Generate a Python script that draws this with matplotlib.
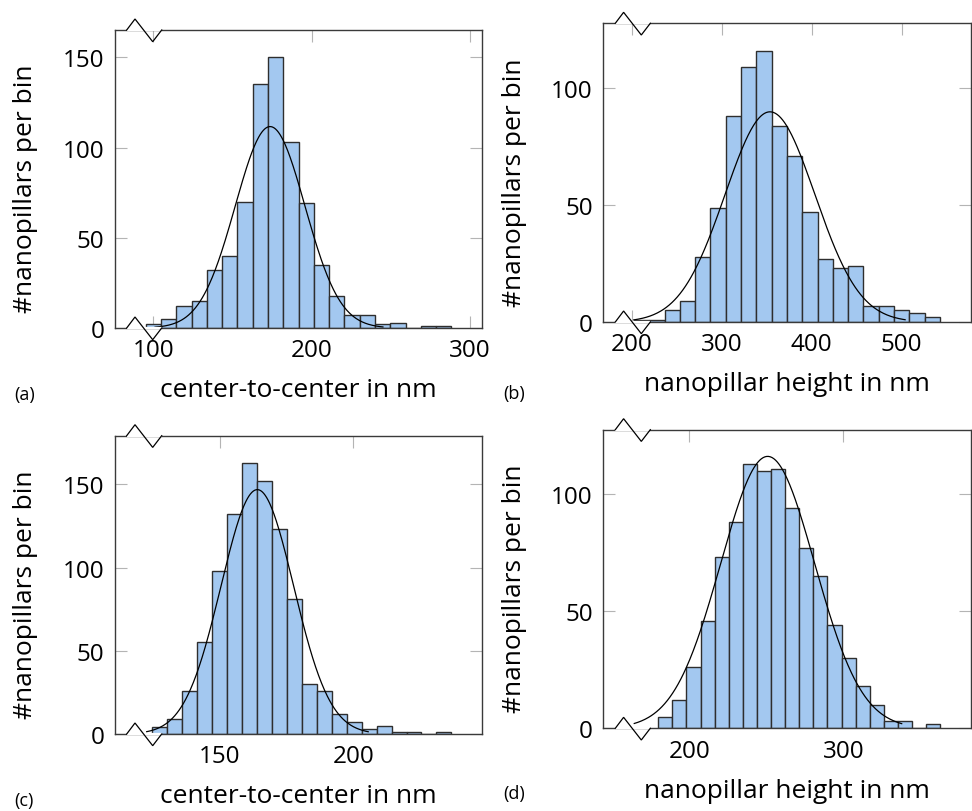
import numpy as np
import matplotlib
matplotlib.use("Agg")
import matplotlib.pyplot as plt

plt.rcParams['font.family'] = ['Open Sans', 'DejaVu Sans']

# ---------------- data ----------------
# (a) center-to-center, top row
a_counts = [2, 5, 12, 15, 32, 40, 70, 135, 150, 103, 69, 35, 18, 7, 7, 2, 3, 0, 1, 1]
a_bin_start = 95.1
a_bin_width = 9.66
a_fit = dict(mu=173.7, sigma=22.0, amp=111.6, x0=101.0, x1=245.0)

# (b) nanopillar height, top row
b_counts = [1, 1, 5, 9, 28, 49, 88, 109, 116, 84, 71, 47, 27, 23, 24, 7, 7, 5, 4, 2]
b_bin_start = 202.2
b_bin_width = 17.03
b_fit = dict(mu=353.6, sigma=50.0, amp=90.0, x0=202.0, x1=504.0)

# (c) center-to-center, bottom row
c_counts = [4, 9, 26, 55, 98, 132, 163, 152, 123, 81, 30, 26, 12, 7, 3, 5, 1, 1, 0, 1]
c_bin_start = 124.6
c_bin_width = 5.61
c_fit = dict(mu=164.0, sigma=13.6, amp=146.9, x0=122.5, x1=205.6)

# (d) nanopillar height, bottom row
d_counts = [5, 12, 26, 46, 73, 88, 113, 110, 111, 94, 77, 65, 44, 30, 18, 10, 3, 3, 0, 2]
d_bin_start = 179.9
d_bin_width = 9.15
d_fit = dict(mu=250.9, sigma=30.5, amp=116.2, x0=164.3, x1=337.9)

xlabel_cc = "center-to-center in nm"
xlabel_h = "nanopillar height in nm"
ylabel = "#nanopillars per bin"

a_xticks = [100, 200, 300]
b_xticks = [200, 300, 400, 500]
c_xticks = [150, 200]
d_xticks = [200, 300]
a_yticks = [0, 50, 100, 150]
b_yticks = [0, 50, 100]
c_yticks = [0, 50, 100, 150]
d_yticks = [0, 50, 100]

# ---------------- style ----------------
BAR_FACE = '#a3c8f0'
BAR_EDGE = '#2e2e2e'
SPINE = '#3a3a3a'
TICK = '#b4b4b4'

fig = plt.figure(figsize=(9.72, 8.12), dpi=100)

W_PX, H_PX = 972, 812


def rect(l, t, r, b):
    return [l / W_PX, 1 - b / H_PX, (r - l) / W_PX, (b - t) / H_PX]


panels = [
    dict(rect=rect(114.7, 31.0, 482.0, 329.0), counts=a_counts, start=a_bin_start,
         width=a_bin_width, fit=a_fit, xlim=(75.5, 307.6), ylim=(0, 165.1),
         xticks=a_xticks, yticks=a_yticks, xlabel=xlabel_cc, tag='(a)',
         tagpos=(25, 395)),
    dict(rect=rect(603.3, 24.3, 970.7, 323.0), counts=b_counts, start=b_bin_start,
         width=b_bin_width, fit=b_fit, xlim=(168.1, 577.0), ylim=(0, 127.9),
         xticks=b_xticks, yticks=b_yticks, xlabel=xlabel_h, tag='(b)',
         tagpos=(514, 394)),
    dict(rect=rect(114.7, 436.7, 482.3, 735.0), counts=c_counts, start=c_bin_start,
         width=c_bin_width, fit=c_fit, xlim=(110.5, 248.4), ylim=(0, 179.3),
         xticks=c_xticks, yticks=c_yticks, xlabel=xlabel_cc, tag='(c)',
         tagpos=(24, 801)),
    dict(rect=rect(603.3, 430.7, 970.7, 729.3), counts=d_counts, start=d_bin_start,
         width=d_bin_width, fit=d_fit, xlim=(144.2, 382.7), ylim=(0, 127.6),
         xticks=d_xticks, yticks=d_yticks, xlabel=xlabel_h, tag='(d)',
         tagpos=(514, 794)),
]


def draw_break(ax, rect_frac):
    w_px = rect_frac[2] * W_PX
    h_px = rect_frac[3] * H_PX
    xs_px = [12.0, 20.3, 38.0, 47.0]
    ys_px = [0.0, 11.0, -11.7, 0.0]
    xs = [p / w_px for p in xs_px]
    for y0 in (0.0, 1.0):
        ys = [y0 + p / h_px for p in ys_px]
        ax.plot([xs[0], xs[-1]], [y0, y0], color='white', lw=1.6,
                transform=ax.transAxes, clip_on=False, zorder=5,
                solid_capstyle='butt')
        ax.plot(xs, ys, color='black', lw=0.9, transform=ax.transAxes,
                clip_on=False, zorder=6, solid_joinstyle='miter')


for p in panels:
    ax = fig.add_axes(p['rect'])
    counts = np.asarray(p['counts'], dtype=float)
    n = len(counts)
    edges = p['start'] + p['width'] * np.arange(n)
    ax.bar(edges, counts, width=p['width'], align='edge', color=BAR_FACE,
           edgecolor=BAR_EDGE, linewidth=1.0, zorder=2)
    f = p['fit']
    xs = np.linspace(f['x0'], f['x1'], 300)
    ys = f['amp'] * np.exp(-0.5 * ((xs - f['mu']) / f['sigma']) ** 2)
    ax.plot(xs, ys, color='black', lw=0.9, zorder=3)

    ax.set_xlim(*p['xlim'])
    ax.set_ylim(*p['ylim'])
    ax.set_xticks(p['xticks'])
    ax.set_yticks(p['yticks'])
    ax.tick_params(direction='in', length=8.5, width=0.8, color=TICK,
                   top=True, right=True, labelsize=17.5, pad=7.5)
    for s in ax.spines.values():
        s.set_color(SPINE)
        s.set_linewidth(1.0)
        s.set_zorder(4)

    ax.set_xlabel(p['xlabel'], fontsize=19)
    ax.xaxis.set_label_coords(0.5, -0.165)
    ax.set_ylabel(ylabel, fontsize=19)
    ax.yaxis.set_label_coords(-0.208, 0.47)

    draw_break(ax, p['rect'])

    tx, ty = p['tagpos']
    fig.text(tx / W_PX, 1 - ty / H_PX, p['tag'], fontsize=13, ha='center',
             va='center')

fig.savefig('out.png', dpi=100)
